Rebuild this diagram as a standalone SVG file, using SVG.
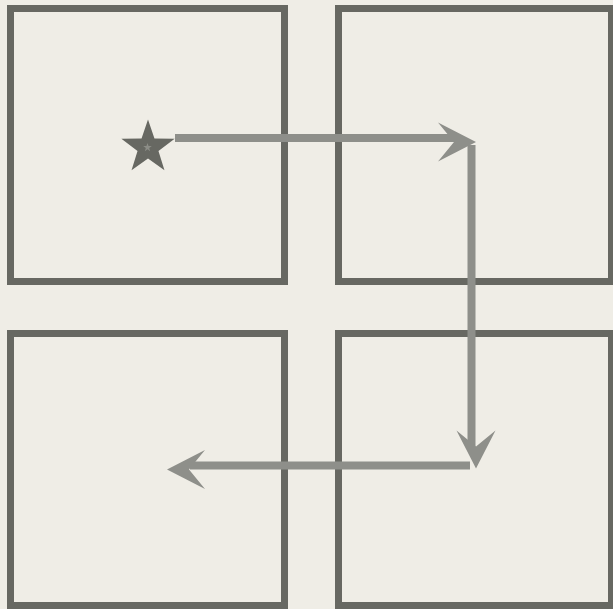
<svg xmlns="http://www.w3.org/2000/svg" xmlns:xlink="http://www.w3.org/1999/xlink" width="613" height="609" viewBox="0 0 613 609">
  <style>
    .room { fill: #efede6; stroke: #676862; stroke-width: 7; }
    .path { fill: none; stroke: #8e8f8a; stroke-width: 8; stroke-linecap: butt; }
    .head { fill: #8e8f8a; stroke: none; }
  </style>
  <defs>
    <polygon id="star" points="0,-1 0.231,-0.318 0.951,-0.309 0.374,0.1215 0.588,0.809 0,0.393 -0.588,0.809 -0.374,0.1215 -0.951,-0.309 -0.231,-0.318"/>
  </defs>
  <rect width="613" height="609" fill="#efede6"/>
  <g id="room-top-left"><rect class="room" x="10.5" y="8.5" width="274" height="273"/></g>
  <g id="room-top-right"><rect class="room" x="338.5" y="8.5" width="273" height="273"/></g>
  <g id="room-bottom-left"><rect class="room" x="10.5" y="333.5" width="274" height="272"/></g>
  <g id="room-bottom-right"><rect class="room" x="338.5" y="333.5" width="273" height="272"/></g>
  <g id="connectors">
    <line class="path" x1="175" y1="138" x2="457" y2="138"/>
    <polygon class="head" points="476,142 438,122.5 454,142 438,161.5"/>
    <line class="path" x1="471.5" y1="145" x2="471.5" y2="449"/>
    <polygon class="head" points="476,468.5 456.5,430.5 476,446.5 495.5,430.5"/>
    <line class="path" x1="470" y1="465.5" x2="190" y2="465.5"/>
    <polygon class="head" points="167,469.5 205,450 189,469.5 205,489"/>
  </g>
  <g id="start-star">
    <use xlink:href="#star" fill="#676862" transform="translate(148,147.5) scale(28)"/>
    <use xlink:href="#star" fill="#8c8d87" transform="translate(147.5,147.5) scale(4.5)"/>
  </g>
</svg>
